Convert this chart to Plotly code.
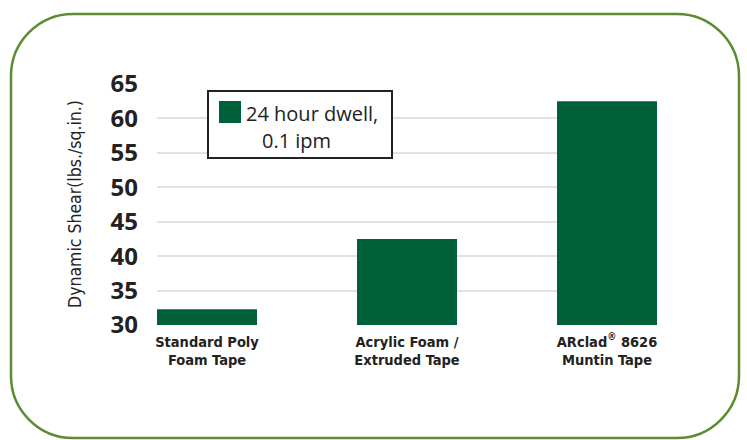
import plotly.graph_objects as go

categories = ["Standard Poly<br>Foam Tape", "Acrylic Foam /<br>Extruded Tape", "ARclad<sup>®</sup> 8626<br>Muntin Tape"]
values = [32.3, 42.5, 62.5]
series_name = "24 hour dwell,"
series_name2 = "0.1 ipm"
y_title = "Dynamic Shear(lbs./sq.in.)"
y_ticks = [30, 35, 40, 45, 50, 55, 60, 65]

W, H = 747, 440
L, R, T, B = 157, 657, 84, 325  # plot area in pixels

def px(x):
    return (x - L) / (R - L)

def py(y):
    return (B - y) / (B - T)

GREEN = "#00603a"
BORDER = "#5b8c32"
COND = "Liberation Sans Narrow, DejaVu Sans Condensed, sans-serif"

fig = go.Figure()
fig.add_trace(go.Bar(
    x=[0, 1, 2], y=[v - 30 for v in values], base=30,
    marker=dict(color=GREEN, line=dict(width=0)),
    width=0.5, showlegend=False, hoverinfo="skip",
))

# rounded frame
x0, x1, y0, y1, r = 11, 739, 14, 438, 62
k = 0.45
path = (
    f"M {px(x0+r)},{py(y0)} L {px(x1-r)},{py(y0)} "
    f"C {px(x1-r*k)},{py(y0)} {px(x1)},{py(y0+r*k)} {px(x1)},{py(y0+r)} "
    f"L {px(x1)},{py(y1-r)} "
    f"C {px(x1)},{py(y1-r*k)} {px(x1-r*k)},{py(y1)} {px(x1-r)},{py(y1)} "
    f"L {px(x0+r)},{py(y1)} "
    f"C {px(x0+r*k)},{py(y1)} {px(x0)},{py(y1-r*k)} {px(x0)},{py(y1-r)} "
    f"L {px(x0)},{py(y0+r)} "
    f"C {px(x0)},{py(y0+r*k)} {px(x0+r*k)},{py(y0)} {px(x0+r)},{py(y0)} Z"
)
fig.add_shape(type="path", path=path, xref="paper", yref="paper",
              line=dict(color=BORDER, width=2.5), layer="above")

# legend box
fig.add_shape(type="rect", xref="paper", yref="paper",
              x0=px(208), x1=px(392), y0=py(91), y1=py(158),
              line=dict(color="#222222", width=2), fillcolor="white", layer="above")
fig.add_shape(type="rect", xref="paper", yref="paper",
              x0=px(219), x1=px(241), y0=py(101), y1=py(123),
              line=dict(width=0), fillcolor=GREEN, layer="above")
fig.add_annotation(text=series_name, xref="paper", yref="paper",
                   x=px(244), y=py(113), xanchor="left", yanchor="middle",
                   showarrow=False, font=dict(family="Open Sans", size=20, color="#222222"))
fig.add_annotation(text=series_name2, xref="paper", yref="paper",
                   x=px(260), y=py(140), xanchor="left", yanchor="middle",
                   showarrow=False, font=dict(family="Open Sans", size=20, color="#222222"))

# y title
fig.add_annotation(text=y_title, xref="paper", yref="paper",
                   x=px(75), y=py(204), xanchor="center", yanchor="middle",
                   textangle=-90, showarrow=False,
                   font=dict(family=COND, size=17.5, color="#222222"))

fig.update_layout(
    width=W, height=H,
    margin=dict(l=L, r=W - R, t=T, b=H - B, autoexpand=False),
    paper_bgcolor="white", plot_bgcolor="white",
    xaxis=dict(
        range=[-0.25, 2.25], tickmode="array", tickvals=[0, 1, 2], ticktext=categories,
        showgrid=False, zeroline=False, showline=False, ticks="",
        ticklabelstandoff=6,
        tickfont=dict(family=COND, size=14.5, color="#222222", weight="bold"),
    ),
    yaxis=dict(
        range=[30, 65], tickmode="array", tickvals=y_ticks,
        showgrid=True, gridcolor="#e2e2e2", gridwidth=1.5, zeroline=False, showline=False,
        ticks="", ticklabelstandoff=18,
        tickfont=dict(family="Open Sans", size=24, color="#222222", weight="bold"),
    ),
)

fig.write_html("out.html", config={"displayModeBar": False},
               post_script="document.body.style.margin='0';document.body.style.overflow='hidden';")
